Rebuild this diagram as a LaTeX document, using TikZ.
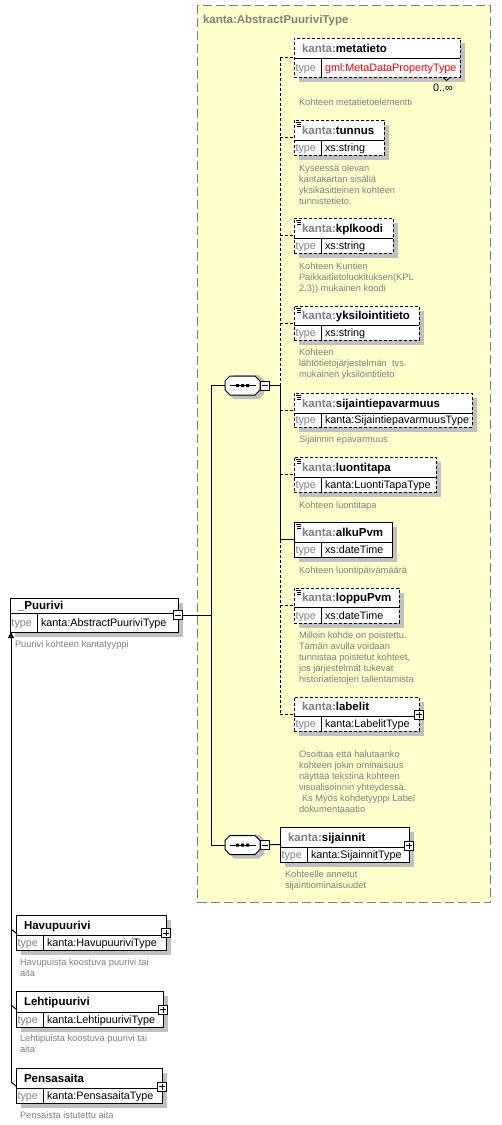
\documentclass[tikz,border=0pt]{standalone}
\usepackage{fontspec}
\setmainfont{Liberation Sans}
\usetikzlibrary{arrows.meta}
\definecolor{ylw}{RGB}{255,255,204}
\definecolor{shd}{RGB}{192,192,192}
\definecolor{gry}{RGB}{128,128,128}
\newcommand{\nmfont}{\fontsize{11.5}{13}\selectfont\bfseries}
\newcommand{\tyfont}{\fontsize{10.8}{13}\selectfont}
\newcommand{\dsfont}{\fontsize{9.3}{11}\selectfont}
% element box: name, x, y, w, h, name-row height, border style, name text, type text
\newcommand{\xelem}[9]{%
  \fill[shd] ({#2+5},{#3+5}) rectangle ++(#4,#5);
  \node[ebox,#7,minimum width=#4pt,minimum height=#5pt,anchor=north west] (#1) at (#2,#3) {};
  \draw ({#2},{#3+#6}) -- ++(#4,0);
  \draw ({#2+27.5},{#3+#6}) -- ({#2+27.5},{#3+#5});
  \node[txt,anchor=base west,font=\nmfont] (#1-nm) at ({#2+8},{#3+#6/2+4.1}) {#8};
  \node[txt,anchor=base west,font=\tyfont,text=gry] (#1-ty) at ({#2+1.5},{#3+#6+(#5-#6)/2+3.9}) {type};
  \node[txt,anchor=base west,font=\tyfont] (#1-tv) at ({#2+31},{#3+#6+(#5-#6)/2+3.9}) {#9};
}
\newcommand{\xicon}[1]{%
  \draw[line width=0.8pt] ([shift={(2,2.5)}]#1.north west) -- ++(5,0)
    ([shift={(3,4.5)}]#1.north west) -- ++(4,0)
    ([shift={(3,6.5)}]#1.north west) -- ++(4,0);
}
\newcommand{\xplus}[3]{%
  \node[pmbox] (#1) at (#2,#3) {};
  \draw (#2-3,#3) -- (#2+3,#3) (#2,#3-3) -- (#2,#3+3);
}
\newcommand{\xminus}[3]{%
  \node[pmbox] (#1) at (#2,#3) {};
  \draw (#2-3,#3) -- (#2+3,#3);
}
\newcommand{\xseq}[3]{%
  \fill[shd] ({#2-13.5},{#3-5.5}) -- ({#2-8.5},{#3-10.5}) -- ({#2+16.5},{#3-10.5}) -- ({#2+21.5},{#3-5.5}) -- ({#2+21.5},{#3+8.5}) -- ({#2+16.5},{#3+13.5}) -- ({#2-8.5},{#3+13.5}) -- ({#2-13.5},{#3+8.5}) -- cycle;
  \draw[fill=white] ({#2-17.5},{#3-4.5}) -- ({#2-12.5},{#3-9.5}) -- ({#2+12.5},{#3-9.5}) -- ({#2+17.5},{#3-4.5}) -- ({#2+17.5},{#3+4.5}) -- ({#2+12.5},{#3+9.5}) -- ({#2-12.5},{#3+9.5}) -- ({#2-17.5},{#3+4.5}) -- cycle;
  \node[inner sep=0pt,outer sep=0pt,minimum width=35pt,minimum height=19pt] (#1) at (#2,#3) {};
  \draw ({#2-13},#3) -- ({#2+13},#3);
  \fill ({#2-6.5},{#3-1.5}) rectangle ++(3,3) ({#2-1.5},{#3-1.5}) rectangle ++(3,3) ({#2+3.5},{#3-1.5}) rectangle ++(3,3);
}
\newcommand{\xdesc}[4]{%
  \node[txt,anchor=north west,align=left,font=\dsfont,text=gry] (#1) at (#2,{#3-3.3}) {#4};
}
\begin{document}
\begin{tikzpicture}[x=1pt,y=-1pt,line width=1pt,
  txt/.style={inner sep=0pt,outer sep=0pt},
  ebox/.style={draw,fill=white,inner sep=0pt,outer sep=0pt},
  opt/.style={dash pattern=on 3pt off 2pt},
  req/.style={solid},
  optl/.style={dash pattern=on 3pt off 2pt},
  pmbox/.style={draw,fill=white,minimum size=9pt,inner sep=0pt,outer sep=0pt}]
\fill[white] (0,0) rectangle (501,1125);
\useasboundingbox (0,0) rectangle (501,1125);

% complex type area
\node[draw=gry,fill=ylw,line width=1.2pt,dash pattern=on 9pt off 4pt,minimum width=293pt,minimum height=897pt,anchor=north west,inner sep=0pt] (ctype) at (197,5) {};
\node[txt,anchor=base west,font=\nmfont,text=gry] (title) at (203,23) {kanta:AbstractPuuriviType};

% elements
\xelem{metatieto}{294}{38}{166}{39}{20}{opt}{\textcolor{gry}{kanta:}metatieto}{\textcolor{red}{gml:MetaDataPropertyType}}
\xelem{tunnus}{294}{120}{90}{35}{20.5}{opt}{\textcolor{gry}{kanta:}tunnus}{xs:string}
\xelem{kplkoodi}{294}{218}{99}{35}{20}{opt}{\textcolor{gry}{kanta:}kplkoodi}{xs:string}
\xelem{yksil}{294}{306}{125}{34}{19}{opt}{\textcolor{gry}{kanta:}yksilointitieto}{xs:string}
\xelem{sijep}{294}{393}{178}{34}{20}{opt}{\textcolor{gry}{kanta:}sijaintiepavarmuus}{kanta:SijaintiepavarmuusType}
\xelem{luonti}{294}{457}{142}{35}{20}{opt}{\textcolor{gry}{kanta:}luontitapa}{kanta:LuontiTapaType}
\xelem{alku}{294}{522}{98}{35}{20}{req}{\textcolor{gry}{kanta:}alkuPvm}{xs:dateTime}
\xelem{loppu}{294}{588}{105}{35}{19.5}{opt}{\textcolor{gry}{kanta:}loppuPvm}{xs:dateTime}
\xelem{labelit}{294}{697}{125}{34}{19}{opt}{\textcolor{gry}{kanta:}labelit}{kanta:LabelitType}
\xelem{sijainnit}{280}{827}{129}{35}{20}{req}{\textcolor{gry}{kanta:}sijainnit}{kanta:SijainnitType}
\xicon{tunnus}\xicon{kplkoodi}\xicon{yksil}\xicon{sijep}\xicon{luonti}\xicon{alku}\xicon{loppu}

\node[txt,anchor=base,font=\tyfont] (mult) at (443,91) {0..∞};
\draw[line width=0.8pt] (443,77.5) -- (446.5,80.5) -- (450,77.5);

% left elements
\xelem{puurivi}{10}{598}{168}{34}{15}{req}{\_Puurivi}{kanta:AbstractPuuriviType}
\xelem{havu}{16}{915}{150}{35}{20}{req}{Havupuurivi}{kanta:HavupuuriviType}
\xelem{lehti}{16}{991}{147}{36}{21}{req}{Lehtipuurivi}{kanta:LehtipuuriviType}
\xelem{pensas}{16}{1068}{146}{35}{20}{req}{Pensasaita}{kanta:PensasaitaType}

% sequences
\xseq{seq1}{242.5}{385.5}
\xseq{seq2}{242.5}{845}

% connectors
\coordinate (bus) at (280,385.5);
\coordinate (lbus) at (211,615);
\draw (seq1.east) -- (bus);
\draw[optl] (metatieto.west -| bus) -- (bus);
\draw (bus) -- (alku.west -| bus);
\draw[optl] (alku.west -| bus) -- (labelit.west -| bus);
\foreach \e in {metatieto,tunnus,kplkoodi,yksil,sijep,luonti,loppu,labelit}
  \draw[optl] (\e.west -| bus) -- (\e.west);
\draw (alku.west -| bus) -- (alku.west);
\draw (seq2.east) -- (sijainnit.west);
\draw (puurivi.east) -- (lbus);
\draw (seq1.west -| lbus) -- (seq2.west -| lbus);
\draw (seq1.west -| lbus) -- (seq1.west);
\draw (seq2.west -| lbus) -- (seq2.west);

\xminus{seq1m}{264.5}{385.5}
\xminus{seq2m}{264.5}{845}
\xminus{puurivim}{178}{615}
\xplus{labelitp}{419}{714.5}
\xplus{sijainnitp}{409}{845.5}
\xplus{havup}{166}{933}
\xplus{lehtip}{163}{1009.5}
\xplus{pensasp}{162}{1086.5}

% inheritance
\coordinate (inh) at (11,1082);
\draw[-{Triangle[length=6pt,width=6pt]}] (inh) -- (inh |- puurivi.south);
\draw ([shift={(-5,14)}]havu.north west) -- ([shift={(0,18)}]havu.north west);
\draw ([shift={(-5,14)}]lehti.north west) -- ([shift={(0,18)}]lehti.north west);
\draw ([shift={(-5,14)}]pensas.north west) -- ([shift={(0,18)}]pensas.north west);

% descriptions
\xdesc{d1}{299}{102}{Kohteen metatietoelementti}
\xdesc{d2}{299}{168}{Kyseessä olevan\\kantakartan sisällä\\yksikäsitteinen kohteen\\tunnistetieto.}
\xdesc{d3}{299}{266}{Kohteen Kuntien\\Paikkaitietoluokituksen(KPL\\2.3)) mukainen koodi}
\xdesc{d4}{299}{352}{Kohteen\\lähtötietojärjestelmän\ \ tvs.\\mukainen yksilöintitieto}
\xdesc{d5}{299}{439}{Sijainnin epävarmuus}
\xdesc{d6}{299}{505}{Kohteen luontitapa}
\xdesc{d7}{299}{570}{Kohteen luontipäivämäärä}
\xdesc{d8}{299}{635}{Milloin kohde on poistettu.\\Tämän avulla voidaan\\tunnistaa poistetut kohteet,\\jos järjestelmät tukevat\\historiatietojen tallentamista}
\xdesc{d9}{299}{754}{Osoittaa että halutaanko\\kohteen jokin ominaisuus\\näyttää tekstinä kohteen\\visualisoinnin yhteydessä.\\\hspace*{3pt}Ks Myös kohdetyyppi Label\\dokumentaaatio}
\xdesc{d10}{285}{874}{Kohteelle annetut\\sijaintiominaisuudet}
\xdesc{d11}{15}{644}{Puurivi kohteen kantatyyppi}
\xdesc{d12}{20}{962}{Havupuista koostuva puurivi tai\\aita}
\xdesc{d13}{20}{1038}{Lehtipuista koostuva puurivi tai\\aita}
\xdesc{d14}{20}{1115}{Pensaista istutettu aita}
\end{tikzpicture}
\end{document}
